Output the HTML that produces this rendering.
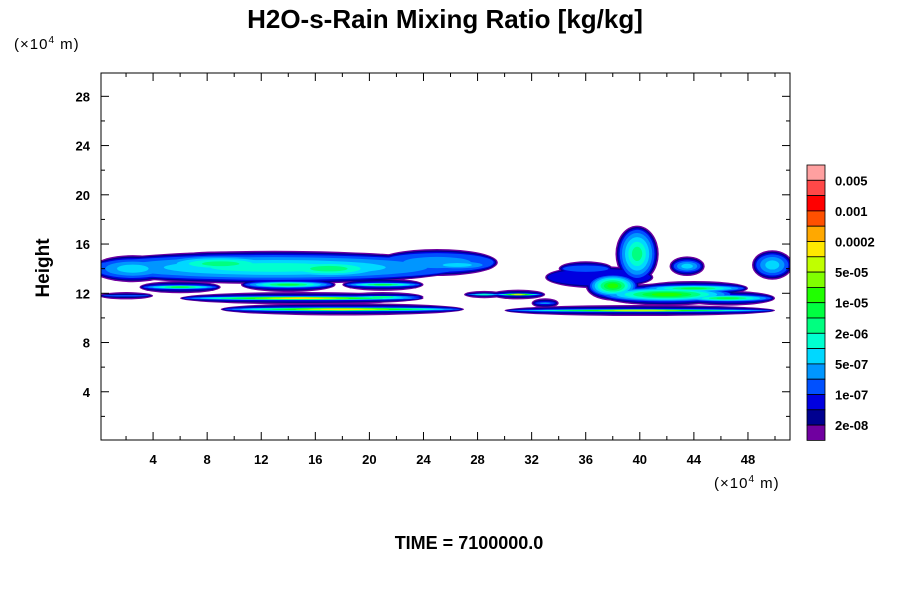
<!DOCTYPE html>
<html><head><meta charset="utf-8"><style>
body{margin:0;background:#fff;width:900px;height:600px;overflow:hidden}
text{font-family:"Liberation Sans",sans-serif}
</style></head><body>
<svg id="chart" width="900" height="600" xmlns="http://www.w3.org/2000/svg">
<text x="445" y="28" text-anchor="middle" font-size="26" font-weight="bold">H2O-s-Rain Mixing Ratio [kg/kg]</text>
<text x="14" y="49" font-size="15" letter-spacing="1">(×10<tspan font-size="10" dy="-6">4</tspan><tspan dy="6"> m)</tspan></text>
<text x="714" y="488" font-size="15" letter-spacing="1">(×10<tspan font-size="10" dy="-6">4</tspan><tspan dy="6"> m)</tspan></text>
<text transform="translate(49,268) rotate(-90)" text-anchor="middle" font-size="19" font-weight="bold">Height</text>
<text x="469" y="549" text-anchor="middle" font-size="18" font-weight="bold">TIME = 7100000.0</text>
<g id="field"></g>
<rect x="101" y="73" width="689" height="367" fill="none" stroke="#000" stroke-width="1"/>
<g id="axes"></g>
<g id="legend"></g>
</svg>
<script>
const colors=["#7000a0","#000090","#0000e0","#0050ff","#0096ff","#00d8ff","#00ffd0","#00ff80","#00ff40","#20ff00","#80ff00","#c0ff00","#ffe800","#ffa800","#ff5000","#ff0000","#ff4848","#ffa0a0"];
const legendLabels=["0.005","0.001","0.0002","5e-05","1e-05","2e-06","5e-07","1e-07","2e-08"];
const xTicks=[4,8,12,16,20,24,28,32,36,40,44,48];
const yTicks=[4,8,12,16,20,24,28];
// blobs: center x, center y, half-width, half-height, peak level
const blobX=[13,25,2.5,15,18,6,14,21,21,28.5,2,31,40,37,39.8,38,42,46.5,43.5,49.8,33,9,17,26.5,36,44];
const blobY=[14.1,14.5,14.0,11.6,10.7,12.5,12.7,12.7,11.7,11.9,11.8,11.9,10.6,13.3,15.2,12.6,11.9,11.6,14.2,14.3,11.2,14.4,14.0,14.3,14.0,12.4];
const blobRX=[14,4.5,3,9,9,3,3.5,3,3,1.5,2,2,10,4,1.6,2,5,3.5,1.3,1.5,1,5,5,2.8,2,4];
const blobRY=[1.35,1.1,1.1,0.5,0.5,0.5,0.6,0.5,0.4,0.3,0.3,0.4,0.45,0.9,2.3,1.2,0.9,0.6,0.8,1.2,0.4,1.0,1.1,0.7,0.6,0.6];
const blobPeak=[6,4,5,12,12,8,8,8,7,6,3,11,11,2,7,9,9,8,5,5,4,7,7,5,3,8];
const X0=99,XS=13.52,Y0=441,YS=12.31;
const sx=v=>X0+v*XS, sy=v=>Y0-v*YS;
const NS="http://www.w3.org/2000/svg";
const field=document.getElementById('field');
const clip=document.createElementNS(NS,'clipPath');clip.id='pc';
const cr=document.createElementNS(NS,'rect');cr.setAttribute('x',101);cr.setAttribute('y',73);cr.setAttribute('width',689);cr.setAttribute('height',367);
clip.appendChild(cr);field.appendChild(clip);field.setAttribute('clip-path','url(#pc)');
const maxP=Math.max(...blobPeak);
for(let lev=0;lev<=maxP;lev++){
  for(let i=0;i<blobX.length;i++){
    const p=blobPeak[i];
    if(lev>p)continue;
    const off=1.4*Math.min(lev,3);
    const g=lev>3?1-0.92*Math.pow((lev-3)/(p-2),1.2):1;
    const rx=Math.max((blobRX[i]*XS-off)*g,1), ry=Math.max((blobRY[i]*YS-off)*g,0.8);
    const e=document.createElementNS(NS,'ellipse');
    
    
    e.setAttribute('cx',sx(blobX[i]));e.setAttribute('cy',sy(blobY[i]));
    e.setAttribute('rx',rx);e.setAttribute('ry',ry);
    e.setAttribute('fill',colors[lev]);
    field.appendChild(e);
  }
}
const axes=document.getElementById('axes');
function line(x1,y1,x2,y2,name){const l=document.createElementNS(NS,'line');


l.setAttribute('x1',x1);l.setAttribute('y1',y1);l.setAttribute('x2',x2);l.setAttribute('y2',y2);l.setAttribute('stroke','#000');axes.appendChild(l);}
function txt(x,y,s,name,anchor,g){const t=document.createElementNS(NS,'text');


t.setAttribute('x',x);t.setAttribute('y',y);t.setAttribute('text-anchor',anchor);t.setAttribute('font-size','13');t.setAttribute('font-weight','bold');t.textContent=s;(g||axes).appendChild(t);}
for(let v=2;v<=50;v+=2){const big=v%4===0,L=big?8:4;
  line(sx(v),440,sx(v),440-L,'x-tick');line(sx(v),73,sx(v),73+L,'x-tick-top');}
for(let v=2;v<=29;v+=2){const big=v%4===0,L=big?8:4;
  line(101,sy(v),101+L,sy(v),'y-tick');line(790,sy(v),790-L,sy(v),'y-tick-right');}
xTicks.forEach(v=>txt(sx(v),464,String(v),'x-tick-label','middle'));
yTicks.forEach(v=>txt(90,sy(v)+5,String(v),'y-tick-label','end'));
const lg=document.getElementById('legend');
const LT=165,LH=15.3;
for(let k=0;k<colors.length;k++){
  const r=document.createElementNS(NS,'rect');
  
  
  r.setAttribute('x',807);r.setAttribute('y',LT+k*LH);r.setAttribute('width',18);r.setAttribute('height',LH);
  r.setAttribute('fill',colors[colors.length-1-k]);r.setAttribute('stroke','#000');r.setAttribute('stroke-width','0.8');
  lg.appendChild(r);
}
legendLabels.forEach((s,j)=>txt(835,LT+(2*j+1)*LH+5,s,'legend-label','start',lg));
</script>
</body></html>
